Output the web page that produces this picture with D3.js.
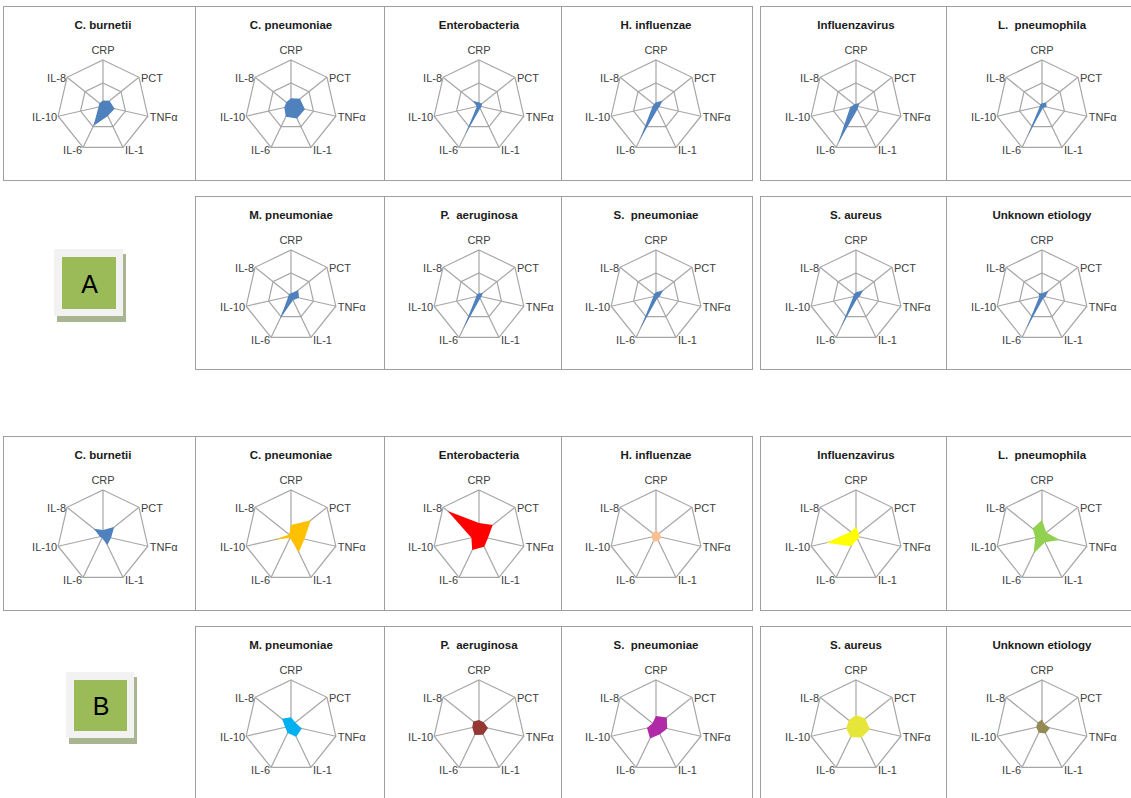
<!DOCTYPE html>
<html>
<head>
<meta charset="utf-8">
<script src="https://cdn.jsdelivr.net/npm/d3@7"></script>
<style>
  body { margin: 0; background: #fff; }
  text { font-family: "Liberation Sans", Arial, sans-serif; }
</style>
</head>
<body>
<div id="canvas"></div>
<script>
"use strict"

/* axes of every radar, clockwise from the top */
let axes = ["CRP", "PCT", "TNFα", "IL-1", "IL-6", "IL-10", "IL-8"];

/* one panel per pathogen */
let pathogens = ["C. burnetii", "C. pneumoniae", "Enterobacteria", "H. influenzae",
    "Influenzavirus", "L.  pneumophila", "M. pneumoniae", "P.  aeruginosa",
    "S.  pneumoniae", "S. aureus", "Unknown etiology"];

/* panel A : relative values (0..1 of outer ring), order as in axes */
let valuesA = [
    [0.12, 0.18, 0.26, 0.24, 0.48, 0.10, 0.10],
    [0.17, 0.25, 0.31, 0.30, 0.26, 0.15, 0.13],
    [0.08, 0.08, 0.06, 0.06, 0.68, 0.05, 0.17],
    [0.08, 0.18, 0.08, 0.08, 0.80, 0.08, 0.06],
    [0.05, 0.10, 0.05, 0.08, 0.90, 0.13, 0.05],
    [0.06, 0.12, 0.10, 0.05, 0.75, 0.05, 0.05],
    [0.06, 0.20, 0.18, 0.10, 0.55, 0.06, 0.06],
    [0.06, 0.10, 0.06, 0.06, 0.80, 0.06, 0.06],
    [0.08, 0.20, 0.08, 0.06, 0.80, 0.06, 0.06],
    [0.08, 0.20, 0.08, 0.06, 0.75, 0.06, 0.06],
    [0.06, 0.18, 0.08, 0.06, 0.80, 0.06, 0.10]
];

/* panel B : relative values */
let valuesB = [
    [0.13, 0.31, 0.18, 0.22, 0.05, 0.07, 0.25],
    [0.24, 0.55, 0.30, 0.39, 0.05, 0.35, 0.05],
    [0.28, 0.38, 0.20, 0.26, 0.34, 0.17, 0.87],
    [0.12, 0.10, 0.12, 0.12, 0.14, 0.10, 0.10],
    [0.20, 0.08, 0.08, 0.08, 0.25, 0.66, 0.15],
    [0.35, 0.12, 0.40, 0.15, 0.42, 0.15, 0.26],
    [0.19, 0.12, 0.24, 0.26, 0.17, 0.13, 0.25],
    [0.13, 0.13, 0.20, 0.21, 0.22, 0.15, 0.16],
    [0.22, 0.30, 0.25, 0.20, 0.30, 0.20, 0.10],
    [0.24, 0.26, 0.31, 0.28, 0.27, 0.22, 0.20],
    [0.14, 0.07, 0.18, 0.18, 0.16, 0.13, 0.12]
];

let colorA = "#4f81bd";
let colorsB = ["#4f81bd", "#ffc000", "#ff0000", "#fac090", "#ffff00", "#92d050",
    "#00b0f0", "#953735", "#b02aa8", "#e6e63a", "#948a54"];

/* page layout */
let colLeft = [3, 195, 384, 561, 760, 946];
let colRight = [195, 384, 561, 752, 946, 1140];
let colCenter = [103, 291, 479, 656, 856, 1042];
let rowTop = [6, 196, 436, 626];
let rowBottom = [180, 369, 610, 800];

let drawing = d3.select("#canvas")
    .append("svg")
    .attr("width", 1131)
    .attr("height", 798);

let radius = 46;
let rScale = d3.scaleLinear().domain([0, 1]).range([0, radius]);
let aScale = d3.scaleLinear().domain([0, axes.length]).range([0, 2 * Math.PI]);

let radial = d3.lineRadial()
    .angle((d, i) => aScale(i))
    .radius(d => rScale(d))
    .curve(d3.curveLinearClosed);

/* panel slot for pathogen k in a section: first row 6 panels, second row 5 */
function slot(k) {
    if (k < 6) return { row: 0, col: k };
    return { row: 1, col: k - 5 };
}

function drawPanel(section, k, values, color) {
    let s = slot(k);
    let r = section * 2 + s.row;
    let x0 = colLeft[s.col], x1 = colRight[s.col];
    let y0 = rowTop[r], y1 = rowBottom[r];
    let cx = colCenter[s.col], cy = y0 + 100;

    drawing.append("rect")
        .attr("x", x0 + 0.5).attr("y", y0 + 0.5)
        .attr("width", x1 - x0).attr("height", y1 - y0)
        .attr("fill", "#fff")
        .attr("stroke", "#9f9f9f")
        .attr("stroke-width", 1);

    drawing.append("text")
        .attr("x", cx).attr("y", y0 + 23)
        .attr("text-anchor", "middle")
        .attr("font-size", 11.5)
        .attr("font-weight", "bold")
        .attr("fill", "#1a1a1a")
        .style("white-space", "pre")
        .text(pathogens[k]);

    let g = drawing.append("g").attr("transform", `translate(${cx},${cy})`);

    /* grid rings: panel A has a half ring as well */
    let rings = section === 0 ? [0.5, 1] : [1];
    rings.forEach(level => {
        g.append("path")
            .attr("d", radial(axes.map(() => level)))
            .attr("fill", "none")
            .attr("stroke", "#a6a6a6")
            .attr("stroke-width", 1.2);
    });

    /* spokes */
    g.selectAll(".spoke")
        .data(axes)
        .enter()
        .append("line")
        .attr("x1", 0).attr("y1", 0)
        .attr("x2", (d, i) => rScale(1) * Math.sin(aScale(i)))
        .attr("y2", (d, i) => -rScale(1) * Math.cos(aScale(i)))
        .attr("stroke", "#a6a6a6")
        .attr("stroke-width", 1.2);

    /* series */
    g.append("path")
        .attr("d", radial(values))
        .attr("fill", color);

    /* axis labels */
    g.selectAll(".lbl")
        .data(axes)
        .enter()
        .append("text")
        .attr("x", (d, i) => {
            let sx = Math.sin(aScale(i));
            let vx = rScale(1) * sx;
            if (Math.abs(sx) < 0.1) return vx;
            return sx > 0 ? vx + 2 : vx - 1;
        })
        .attr("y", (d, i) => {
            let cy2 = -rScale(1) * Math.cos(aScale(i));
            if (i === 0) return cy2 - 10;
            if (i === 3 || i === 4) return cy2 + 3;
            return cy2 + 0.5;
        })
        .attr("text-anchor", (d, i) => {
            let sx = Math.sin(aScale(i));
            if (Math.abs(sx) < 0.1) return "middle";
            return sx > 0 ? "start" : "end";
        })
        .attr("dominant-baseline", "central")
        .attr("font-size", 11)
        .attr("fill", "#404040")
        .text(d => d);
}

pathogens.forEach((p, k) => drawPanel(0, k, valuesA[k], colorA));
pathogens.forEach((p, k) => drawPanel(1, k, valuesB[k], colorsB[k]));

/* section badges */
let badges = [
    { label: "A", x: 54, y: 249, w: 69, h: 67 },
    { label: "B", x: 66, y: 672, w: 68, h: 66 }
];

badges.forEach(b => {
    drawing.append("rect")
        .attr("x", b.x + 3).attr("y", b.y + 5)
        .attr("width", b.w).attr("height", b.h + 1)
        .attr("fill", "#a9b490");
    drawing.append("rect")
        .attr("x", b.x).attr("y", b.y)
        .attr("width", b.w).attr("height", b.h)
        .attr("fill", "#f2f2f2");
    drawing.append("rect")
        .attr("x", b.x + 8).attr("y", b.y + 8)
        .attr("width", b.w - 15).attr("height", b.h - 15)
        .attr("fill", "#9bbb59");
    drawing.append("text")
        .attr("x", b.x + b.w / 2 + 1)
        .attr("y", b.y + b.h / 2 + 1)
        .attr("text-anchor", "middle")
        .attr("dominant-baseline", "central")
        .attr("font-size", 25)
        .attr("fill", "#000")
        .text(b.label);
});
</script>
</body>
</html>
